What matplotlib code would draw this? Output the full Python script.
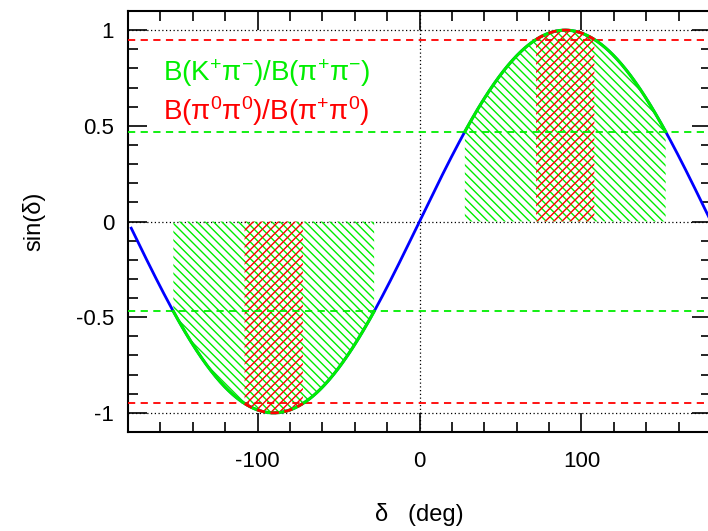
import numpy as np
import matplotlib
matplotlib.use("Agg")
import matplotlib.pyplot as plt
from matplotlib.ticker import MultipleLocator

plt.rcParams['font.family'] = ['Liberation Sans', 'DejaVu Sans']
plt.rcParams['mathtext.fontset'] = 'custom'
plt.rcParams['mathtext.rm'] = 'Liberation Sans'
plt.rcParams['mathtext.it'] = 'Liberation Sans'
plt.rcParams['mathtext.bf'] = 'Liberation Sans:bold'
plt.rcParams['axes.unicode_minus'] = False
plt.rcParams['hatch.linewidth'] = 1.0

# data
green_level = 0.47
red_level = 0.95
green_bands = [(-152, -28), (28, 152)]
red_bands = [(-108, -72), (72, 108)]
xlim = (-180, 180)
ylim = (-1.1, 1.1)
xticks = [-100, 0, 100]
yticks = [-1, -0.5, 0, 0.5, 1]
ytick_labels = ['-1', '-0.5', '0', '0.5', '1']
label_green = 'B(K$^{+}$π$^{−}$)/B(π$^{+}$π$^{−}$)'
label_red = 'B(π$^{0}$π$^{0}$)/B(π$^{+}$π$^{0}$)'

GREEN = '#00ee00'
RED = '#ff0000'
BLUE = '#0000ff'

fig = plt.figure(figsize=(7.08, 5.31), dpi=100)
ax = fig.add_axes([128/708, 1-432/531, 583/708, 421/531])

def curve(a, b, n=400):
    x = np.linspace(a, b, n)
    return x, np.sin(np.radians(x))

# hatched green regions
for a, b in green_bands:
    x, y = curve(a, b)
    ax.fill_between(x, 0, y, facecolor='none', edgecolor=GREEN, linewidth=0,
                    hatch='\\' * 4, zorder=2)
# hatched red regions
for a, b in red_bands:
    x, y = curve(a, b)
    ax.fill_between(x, 0, y, facecolor='none', edgecolor=RED, linewidth=0,
                    hatch='/' * 4, zorder=3)

# reference lines
for yv in (1, 0, -1):
    ax.axhline(yv, color='black', lw=0.9, ls=(0, (1, 2)), zorder=1)
ax.axvline(0, color='black', lw=0.9, ls=(0, (1, 2)), zorder=1)
for s in (1, -1):
    ax.axhline(s*green_level, color=GREEN, lw=1.3, ls=(0, (4, 3)), zorder=4)
    ax.axhline(s*red_level, color=RED, lw=1.3, ls=(0, (4, 3)), zorder=4)

# sine curve
x, y = curve(-178, 180, 800)
ax.plot(x, y, color=BLUE, lw=2, zorder=5)
for a, b in green_bands:
    xx, yy = curve(a, b)
    ax.plot(xx, yy, color=GREEN, lw=2.2, zorder=6)
for a, b in red_bands:
    xx, yy = curve(a, b)
    ax.plot(xx, yy, color=RED, lw=2, ls=(0, (3, 2)), zorder=7)

ax.set_xlim(*xlim)
ax.set_ylim(*ylim)
ax.set_xticks(xticks)
ax.set_yticks(yticks)
ax.set_yticklabels(ytick_labels)
ax.xaxis.set_minor_locator(MultipleLocator(20))
ax.yaxis.set_minor_locator(MultipleLocator(0.1))
ax.tick_params(which='both', direction='in', top=True, right=True, labelsize=16, width=1.2)
ax.tick_params(which='major', length=14)
ax.tick_params(which='minor', length=7)
ax.tick_params(axis='x', pad=14)
ax.tick_params(axis='y', pad=10)
for sp in ax.spines.values():
    sp.set_linewidth(1.5)

ax.set_xlabel('δ   (deg)', fontsize=17, labelpad=22)
ax.set_ylabel('sin(δ)', fontsize=17, labelpad=22)

ax.text(-158.5, 0.776, label_green, color=GREEN, fontsize=20, va='center', ha='left', zorder=8)
ax.text(-158.5, 0.578, label_red, color=RED, fontsize=20, va='center', ha='left', zorder=8)

fig.savefig('out.png', dpi=100)
